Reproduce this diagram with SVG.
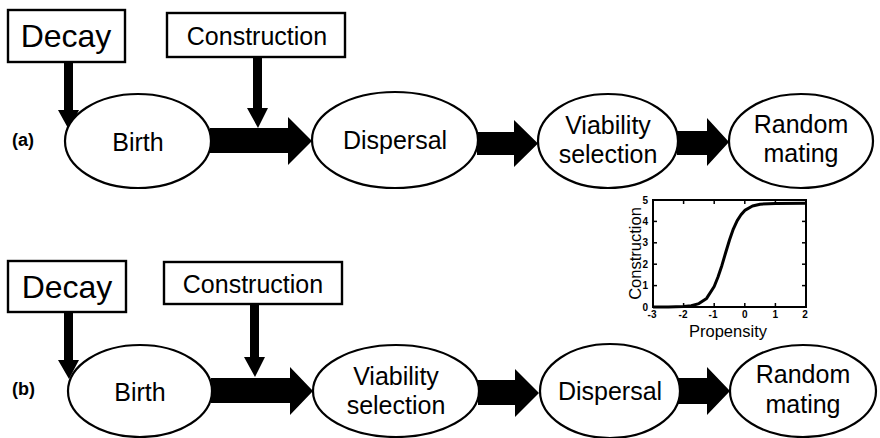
<svg xmlns="http://www.w3.org/2000/svg" width="880" height="438" viewBox="0 0 880 438">
<style>
  text { font-family: "Liberation Sans", Arial, sans-serif; fill: #000; }
  .node { fill: #fff; stroke: #000; stroke-width: 2.2; }
  .box { fill: #fff; stroke: #000; stroke-width: 2.4; }
  .lbl { font-size: 25px; text-anchor: middle; }
  .big { font-size: 32px; text-anchor: middle; }
  .panel { font-size: 18px; font-weight: bold; }
  .arrow { fill: #000; stroke: none; }
  .tick { font-size: 10px; font-weight: bold; }
  .axis { fill: none; stroke: #000; stroke-width: 2; }
  .tk { stroke: #000; stroke-width: 1.5; }
</style>
<rect width="880" height="438" fill="#fff"/>

<g id="connectors">
  <!-- row a -->
  <path class="arrow" d="M64,62 H73 V110 H79 L69,130 L58,110 H64 Z"/>
  <path class="arrow" d="M253,57 H262 V108 H268 L258,128 L247,108 H253 Z"/>
  <path class="arrow" d="M210,128 H288 V117 L312,141 L288,165 V153 H210 Z"/>
  <path class="arrow" d="M477,132 H514 V120 L538,143.5 L514,167 V155 H477 Z"/>
  <path class="arrow" d="M677,131 H707 V118 L729,142 L707,166 V155 H677 Z"/>
  <!-- row b -->
  <path class="arrow" d="M64,312 H73 V360 H79 L69,379 L58,360 H64 Z"/>
  <path class="arrow" d="M250,304 H259 V357 H265 L255,377 L244,357 H250 Z"/>
  <path class="arrow" d="M211,378 H290 V367 L313,391 L290,415 V403 H211 Z"/>
  <path class="arrow" d="M478,380 H515 V369 L539,393 L515,417 V405 H478 Z"/>
  <path class="arrow" d="M678,378 H707 V367 L730,391 L707,415 V404 H678 Z"/>
</g>

<!-- Row (a) -->
<text class="panel" x="12" y="146">(a)</text>
<g id="a-decay">
  <rect class="box" x="8" y="10" width="117" height="52"/>
  <text class="big" x="66" y="47">Decay</text>
</g>
<g id="a-construction">
  <rect class="box" x="167" y="13" width="178" height="44"/>
  <text class="lbl" x="257" y="45">Construction</text>
</g>
<g id="a-birth">
  <ellipse class="node" cx="138" cy="141" rx="73" ry="47"/>
  <text class="lbl" x="138" y="151">Birth</text>
</g>
<g id="a-dispersal">
  <ellipse class="node" cx="395" cy="140" rx="83" ry="48"/>
  <text class="lbl" x="395" y="149">Dispersal</text>
</g>
<g id="a-viability">
  <ellipse class="node" cx="608" cy="141" rx="70" ry="47"/>
  <text class="lbl" x="608" y="134">Viability</text>
  <text class="lbl" x="608" y="163">selection</text>
</g>
<g id="a-mating">
  <ellipse class="node" cx="801" cy="141" rx="72" ry="47"/>
  <text class="lbl" x="801" y="133">Random</text>
  <text class="lbl" x="801" y="162">mating</text>
</g>

<!-- Inset plot -->
<g id="inset">
  <rect class="axis" x="653" y="200" width="153" height="107"/>
  <g class="tk">
    <line x1="683.6" y1="307" x2="683.6" y2="303"/>
    <line x1="714.2" y1="307" x2="714.2" y2="303"/>
    <line x1="744.8" y1="307" x2="744.8" y2="303"/>
    <line x1="775.4" y1="307" x2="775.4" y2="303"/>
    <line x1="683.6" y1="200" x2="683.6" y2="204"/>
    <line x1="714.2" y1="200" x2="714.2" y2="204"/>
    <line x1="744.8" y1="200" x2="744.8" y2="204"/>
    <line x1="775.4" y1="200" x2="775.4" y2="204"/>
    <line x1="653" y1="285.6" x2="657" y2="285.6"/>
    <line x1="653" y1="264.2" x2="657" y2="264.2"/>
    <line x1="653" y1="242.8" x2="657" y2="242.8"/>
    <line x1="653" y1="221.4" x2="657" y2="221.4"/>
    <line x1="806" y1="285.6" x2="802" y2="285.6"/>
    <line x1="806" y1="264.2" x2="802" y2="264.2"/>
    <line x1="806" y1="242.8" x2="802" y2="242.8"/>
    <line x1="806" y1="221.4" x2="802" y2="221.4"/>
  </g>
  <polyline fill="none" stroke="#000" stroke-width="3" stroke-linejoin="round" points="653,307 668.3,306.9 683.6,306.5 691.3,305.7 698.9,303.6 706.6,298.4 714.2,286.5 718,277 721.9,265.4 725.7,252.5 729.5,240 733.3,229.1 737.2,220.6 741,214.8 744.8,210.4 752.5,206 760.1,204.2 775.4,203.4 806,203.2"/>
  <g class="tick" text-anchor="end">
    <text x="648" y="310.5">0</text>
    <text x="648" y="289">1</text>
    <text x="648" y="267.7">2</text>
    <text x="648" y="246.3">3</text>
    <text x="648" y="224.9">4</text>
    <text x="648" y="203.5">5</text>
  </g>
  <g class="tick" text-anchor="middle">
    <text x="652" y="318">-3</text>
    <text x="683" y="318">-2</text>
    <text x="713" y="318">-1</text>
    <text x="744.8" y="318">0</text>
    <text x="775.4" y="318">1</text>
    <text x="805" y="318">2</text>
  </g>
  <text x="728" y="337" font-size="16.5" text-anchor="middle">Propensity</text>
  <text transform="translate(641,253.5) rotate(-90)" font-size="16.5" text-anchor="middle">Construction</text>
</g>

<!-- Row (b) -->
<text class="panel" x="12" y="395">(b)</text>
<g id="b-decay">
  <rect class="box" x="8" y="261" width="118" height="51"/>
  <text class="big" x="67" y="298">Decay</text>
</g>
<g id="b-construction">
  <rect class="box" x="164" y="262" width="178" height="42"/>
  <text class="lbl" x="253" y="293">Construction</text>
</g>
<g id="b-birth">
  <ellipse class="node" cx="140" cy="391" rx="72" ry="46"/>
  <text class="lbl" x="140" y="401">Birth</text>
</g>
<g id="b-viability">
  <ellipse class="node" cx="396" cy="391" rx="83" ry="46"/>
  <text class="lbl" x="396" y="385">Viability</text>
  <text class="lbl" x="396" y="414">selection</text>
</g>
<g id="b-dispersal">
  <ellipse class="node" cx="610" cy="391" rx="70" ry="47"/>
  <text class="lbl" x="610" y="400">Dispersal</text>
</g>
<g id="b-mating">
  <ellipse class="node" cx="803" cy="391" rx="73" ry="46"/>
  <text class="lbl" x="803" y="383">Random</text>
  <text class="lbl" x="803" y="413">mating</text>
</g>
</svg>
